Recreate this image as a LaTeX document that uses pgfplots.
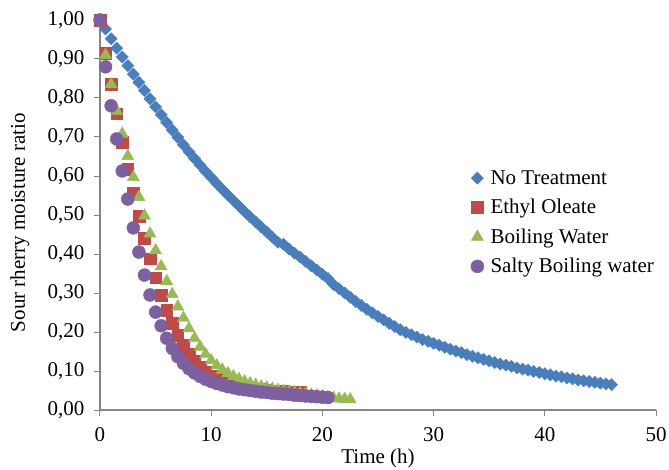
\documentclass[border=0pt]{standalone}
\usepackage{fontspec}
\setmainfont{Liberation Serif}
\usepackage{pgfplots}
\pgfplotsset{compat=1.18}
\definecolor{cBlue}{HTML}{4A7EBB}
\definecolor{cRed}{HTML}{BE4B48}
\definecolor{cGreen}{HTML}{98B954}
\definecolor{cPurple}{HTML}{7D60A0}
\definecolor{axgray}{HTML}{868686}
\begin{document}
\begin{tikzpicture}
\begin{axis}[
 scale only axis, width=556pt, height=390pt,
 xmin=0, xmax=50, ymin=0, ymax=1,
 axis lines*=left,
 axis line style={-, axgray, line width=1.5pt},
 tick align=outside, major tick length=6pt,
 tick style={axgray, line width=1pt},
 xtick={0,10,20,30,40,50},
 ytick={0,0.1,0.2,0.3,0.4,0.5,0.6,0.7,0.8,0.9,1.0},
 y tick label style={/pgf/number format/.cd, fixed, fixed zerofill, precision=2, use comma, /tikz/.cd, xshift=-6pt},
 x tick label style={yshift=-8pt},
 /pgf/number format/assume math mode=true,
 tick label style={font=\fontsize{21}{24}\selectfont},
 label style={font=\fontsize{21}{24}\selectfont},
 xlabel={Time (h)}, ylabel={Sour rherry moisture ratio},
 xlabel style={at={(axis description cs:0.5,-0.124)}, anchor=center},
 ylabel style={at={(axis description cs:-0.144,0.48)}, anchor=center},
 clip=false,
 legend image code/.code={\draw[#1] plot coordinates {(7pt,0pt)}; \path (0pt,0pt) (18pt,0pt);},
 legend style={draw=none, fill=none, at={(axis description cs:0.66,0.625)}, anchor=north west, font=\fontsize{21}{24}\selectfont, row sep=9.5pt},
 legend cell align=left,
]
\addplot[only marks, mark=square*, mark size=4.3pt, mark options={rotate=45, fill=cBlue, draw=cBlue}] coordinates {
(0,1.000)(0.5,0.977)(1,0.952)(1.5,0.928)(2,0.905)(2.5,0.883)(3,0.861)(3.5,0.840)(4,0.819)(4.5,0.798)
(5,0.777)(5.5,0.757)(6,0.737)(6.5,0.718)(7,0.699)(7.5,0.680)(8,0.662)(8.5,0.645)(9,0.628)(9.5,0.612)
(10,0.596)(10.5,0.581)(11,0.566)(11.5,0.551)(12,0.537)(12.5,0.523)(13,0.509)(13.5,0.495)(14,0.482)(14.5,0.469)
(15,0.456)(15.5,0.443)(16,0.430)(16.5,0.425)(17,0.413)(17.5,0.402)(18,0.392)(18.5,0.381)(19,0.370)(19.5,0.359)
(20,0.348)(20.5,0.337)(21,0.322)(21.5,0.311)(22,0.300)(22.5,0.289)(23,0.278)(23.5,0.268)(24,0.258)(24.5,0.249)
(25,0.240)(25.5,0.231)(26,0.222)(26.5,0.214)(27,0.206)(27.5,0.199)(28,0.193)(28.5,0.187)(29,0.181)(29.5,0.176)
(30,0.171)(30.5,0.166)(31,0.161)(31.5,0.156)(32,0.151)(32.5,0.147)(33,0.142)(33.5,0.138)(34,0.134)(34.5,0.130)
(35,0.126)(35.5,0.122)(36,0.118)(36.5,0.115)(37,0.112)(37.5,0.108)(38,0.105)(38.5,0.102)(39,0.099)(39.5,0.096)
(40,0.093)(40.5,0.090)(41,0.087)(41.5,0.085)(42,0.082)(42.5,0.080)(43,0.077)(43.5,0.075)(44,0.073)(44.5,0.071)
(45,0.069)(45.5,0.067)(46,0.065)
};
\addlegendentry{No Treatment}
\addplot[only marks, mark=square*, mark size=5.8pt, mark options={fill=cRed, draw=cRed}] coordinates {
(0,1.000)(0.5,0.915)(1,0.835)(1.5,0.760)(2,0.686)(2.5,0.618)(3,0.556)(3.5,0.497)(4,0.441)(4.5,0.388)
(5,0.339)(5.5,0.295)(6,0.256)(6.5,0.222)(7,0.192)(7.5,0.166)(8,0.144)(8.5,0.125)(9,0.109)(9.5,0.097)
(10,0.087)(10.5,0.080)(11,0.074)(11.5,0.069)(12,0.065)(12.5,0.062)(13,0.059)(13.5,0.057)(14,0.055)(14.5,0.053)
(15,0.052)(15.5,0.050)(16,0.049)(16.5,0.048)(17,0.047)(17.5,0.046)(18,0.045)
};
\addlegendentry{Ethyl Oleate}
\addplot[only marks, mark=triangle*, mark size=7pt, mark options={fill=cGreen, draw=cGreen}] coordinates {
(0,1.000)(0.5,0.910)(1,0.835)(1.5,0.767)(2,0.708)(2.5,0.651)(3,0.597)(3.5,0.546)(4,0.498)(4.5,0.452)
(5,0.409)(5.5,0.368)(6,0.330)(6.5,0.297)(7,0.265)(7.5,0.236)(8,0.209)(8.5,0.184)(9,0.162)(9.5,0.143)
(10,0.127)(10.5,0.114)(11,0.103)(11.5,0.094)(12,0.086)(12.5,0.079)(13,0.073)(13.5,0.068)(14,0.064)(14.5,0.060)
(15,0.057)(15.5,0.054)(16,0.051)(16.5,0.049)(17,0.047)(17.5,0.045)(18,0.043)(18.5,0.041)(19,0.039)(19.5,0.037)
(20,0.035)(20.5,0.033)(21,0.031)(21.5,0.029)(22,0.028)(22.5,0.027)
};
\addlegendentry{Boiling Water}
\addplot[only marks, mark=*, mark size=6.5pt, mark options={fill=cPurple, draw=cPurple}] coordinates {
(0,1.000)(0.5,0.880)(1,0.780)(1.5,0.695)(2,0.613)(2.5,0.541)(3,0.467)(3.5,0.405)(4,0.346)(4.5,0.295)
(5,0.251)(5.5,0.216)(6,0.184)(6.5,0.158)(7,0.137)(7.5,0.120)(8,0.106)(8.5,0.095)(9,0.086)(9.5,0.079)
(10,0.073)(10.5,0.068)(11,0.064)(11.5,0.060)(12,0.057)(12.5,0.054)(13,0.052)(13.5,0.050)(14,0.048)(14.5,0.046)
(15,0.045)(15.5,0.043)(16,0.042)(16.5,0.041)(17,0.040)(17.5,0.038)(18,0.037)(18.5,0.036)(19,0.035)(19.5,0.034)
(20,0.033)(20.5,0.032)
};
\addlegendentry{Salty Boiling water}
\end{axis}
\pgfresetboundingbox
\path (-100pt,-59pt) rectangle (569pt,410pt);
\end{tikzpicture}
\end{document}
